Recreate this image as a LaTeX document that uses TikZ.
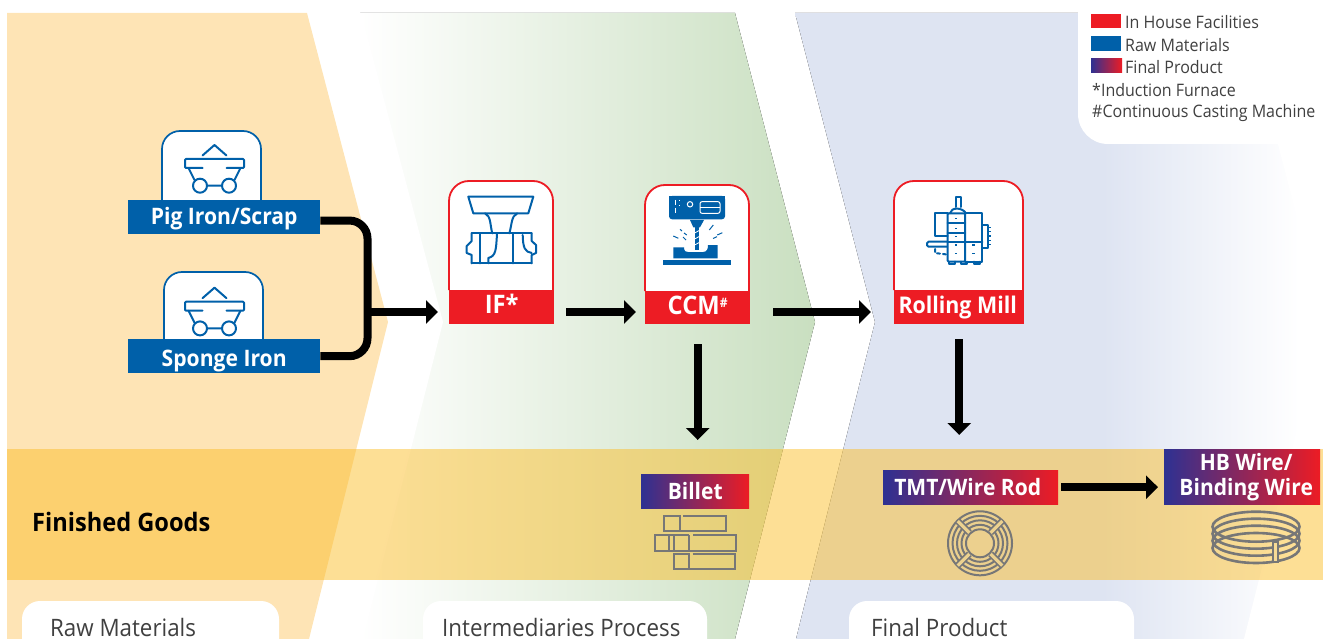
\documentclass[tikz,border=0pt]{standalone}
\usepackage{fontspec}
\setmainfont{Open Sans}[FakeStretch=0.93]
\usepackage{xcolor}
\usepackage{tikz}
\usetikzlibrary{arrows.meta}
\definecolor{orangezone}{HTML}{FEE4B5}
\definecolor{greenzone}{HTML}{C9DFC0}
\definecolor{bluezone}{HTML}{DEE4F2}
\definecolor{bandcol}{HTML}{FBBD27}
\definecolor{rawblue}{HTML}{0060A9}
\definecolor{housered}{HTML}{ED1C24}
\definecolor{prodblue}{HTML}{2E3192}
\definecolor{icongrey}{HTML}{777777}
\definecolor{textgrey}{HTML}{404040}
\definecolor{spokefill}{HTML}{ECD18F}
\definecolor{clasp}{HTML}{F8DB95}
\pgfdeclarehorizontalshading{bluefade}{100bp}{
  color(0bp)=(bluezone); color(54bp)=(bluezone); color(72.6bp)=(white); color(100bp)=(white)}
\tikzset{
  flow/.style={-{Triangle[length=12pt,width=23pt]},line width=8pt,draw=black},
  bluelabel/.style={fill=rawblue,text=white,font=\bfseries\fontsize{22.7}{24}\selectfont,anchor=north west,inner sep=0pt,minimum height=34pt},
  redlabel/.style={fill=housered,text=white,font=\bfseries\fontsize{23}{24}\selectfont,anchor=north west,inner sep=0pt,minimum height=34pt,text height=18pt,text depth=5pt},
  prodlabel/.style={left color=prodblue,right color=housered,text=white,font=\bfseries\fontsize{22.6}{25}\selectfont,anchor=north west,inner sep=0pt,align=center},
  legendtext/.style={text=textgrey,font=\fontsize{17.2}{20}\selectfont,anchor=west,inner sep=0pt},
  tabtext/.style={text=textgrey,font=\fontsize{24}{28}\selectfont,anchor=base west,inner sep=0pt},
  bluecard/.style={draw=rawblue,fill=white,line width=1.7pt,rounded corners=18pt},
  redcard/.style={draw=housered,fill=white,line width=1.8pt,rounded corners=20pt},
  blueicon/.style={draw=rawblue,line width=2pt,line cap=round,line join=round},
  greyicon/.style={draw=icongrey,line width=2pt},
  cart/.pic={
    \draw[blueicon] (-12,10.5) -- (0,0) -- (12,10.5);
    \draw[blueicon,rounded corners=1pt] (-12,23) -- (-29.5,23) -- (-29.5,14) -- (29.5,14) -- (29.5,23) -- (12,23);
    \draw[blueicon] (-26,23) -- (-20,35) (26,23) -- (20,35);
    \draw[blueicon] (-14.5,40.7) circle (7) (14.5,40.7) circle (7) (-7.5,40.7) -- (7.5,40.7);
  }
}
\begin{document}
\begin{tikzpicture}[x=1pt,y=-1pt]
  \clip (0,0) rectangle (1325,639);
  \useasboundingbox (0,0) rectangle (1325,639);

  % zones
  \fill[orangezone] (7,13) -- (307,13) -- (388,322) -- (309,639) -- (7,639) -- cycle;
  \fill[left color=white,right color=greenzone] (360,13) -- (735,13) -- (815,322) -- (735,639) -- (362,639) -- (442,322) -- cycle;
  \fill[shading=bluefade] (795,13) -- (1245,13) -- (1325,322) -- (1245,639) -- (796,639) -- (875,322) -- cycle;
  \draw[white,line width=2pt] (360,13) -- (442,322) -- (362,639);
  \draw[white,line width=2pt] (1245,13) -- (1325,322) -- (1245,639);
  \fill[white,rounded corners=30pt] (1078,-40) rectangle (1400,144);
  \fill[bandcol,opacity=0.49] (7,449) rectangle (1323,580);

  % bottom tabs
  \fill[white,rounded corners=18pt] (22,601) rectangle (279,680);
  \fill[white,rounded corners=18pt] (423,601) rectangle (707,680);
  \fill[white,rounded corners=18pt] (849,601) rectangle (1134,680);
  \node[tabtext] (rawtab) at (50,636.5) {Raw Materials};
  \node[tabtext] (midtab) at (442,636.5) {Intermediaries Process};
  \node[tabtext] (finaltab) at (871,636.5) {Final Product};

  % legend
  \fill[housered] (1091,14) rectangle (1121,28);
  \fill[rawblue] (1091,36) rectangle (1121,51);
  \fill[left color=prodblue,right color=housered] (1091,59) rectangle (1122,73);
  \node[legendtext] (leg1) at (1125,22) {In House Facilities};
  \node[legendtext] (leg2) at (1125,45) {Raw Materials};
  \node[legendtext] (leg3) at (1125,67) {Final Product};
  \node[legendtext] (leg4) at (1092,90) {*Induction Furnace};
  \node[legendtext] (leg5) at (1092,113.5) {\#Continuous Casting Machine};

  % raw material cards
  \draw[bluecard] (162,200) -- (162,131) -- (261,131) -- (261,200);
  \draw[bluecard] (164,339) -- (164,272) -- (263,272) -- (263,339);
  \pic at (214.5,145) {cart};
  \pic at (214.5,287.7) {cart};
  \node[bluelabel,minimum width=192pt,text height=18pt,text depth=4pt] (pig) at (128,200) {Pig Iron/Scrap};
  \node[bluelabel,minimum width=192pt,text height=24pt,text depth=4pt] (sponge) at (128,339) {Sponge Iron};

  % process cards
  \draw[redcard] (449,290) -- (449,181) -- (553,181) -- (553,290);
  \draw[redcard] (645,291) -- (645,185) -- (749,185) -- (749,291);
  \draw[redcard] (894,290) -- (894,181) -- (1023,181) -- (1023,290);
  \node[redlabel,minimum width=105pt,font=\bfseries\fontsize{25.5}{26}\selectfont] (if) at (449,290) {IF*};
  \node[redlabel,minimum width=105pt,minimum height=33pt,font=\bfseries\fontsize{25.5}{26}\selectfont] (ccm) at (645,291) {CCM\raisebox{7pt}{\fontsize{13}{14}\selectfont\#}};
  \node[redlabel,minimum width=130pt] (mill) at (894,290) {Rolling Mill\hspace*{3pt}};

  % IF icon
  \draw[blueicon] (468.3,196.7) -- (533.3,196.7) -- (528.3,213.3) -- (473.3,213.3) -- cycle;
  \draw[blueicon] (485,213.3) .. controls (491,216) and (490,225) .. (492.3,233.3);
  \draw[blueicon] (517.3,213.3) .. controls (511,216) and (512,225) .. (509.3,233.3);
  \draw[blueicon] (471.7,233.3) -- (531.7,233.3);
  \draw[blueicon] (471.7,263.3) -- (531.7,263.3);
  \draw[blueicon] (471.7,233.3) -- (471.7,241) -- (466.7,246) -- (466.7,253) -- (471.7,255) -- (471.7,263.3);
  \draw[blueicon] (531.7,233.3) -- (531.7,241) -- (536,245) -- (536,253) -- (531.7,255) -- (531.7,263.3);
  \draw[blueicon] (480,233.3) -- (480,263.3);
  \draw[blueicon] (513.3,233.3) -- (513.3,263.3);
  \draw[blueicon] (497,234) .. controls (496,250) and (496,256) .. (488.3,258) -- (488.3,263.3);
  \draw[blueicon] (522.7,235) .. controls (523,248) and (525,252) .. (531.7,253);

  % CCM icon
  \fill[rawblue,rounded corners=3pt] (669,196) -- (725,196) -- (725,219.3) -- (669,219.3) -- cycle;
  \fill[rawblue] (669,196) rectangle (725,205);
  \draw[white,line width=1pt] (675,200) -- (675,205.5) (675,208) -- (675,213) (679.3,200) -- (679.3,201.5) (679.3,205) -- (679.3,206.5);
  \draw[white,line width=1pt] (690,204.3) circle (2.7);
  \draw[white,line width=1pt,rounded corners=2pt] (700,201.7) rectangle (720,213.3);
  \draw[white,line width=1pt] (700,207.5) -- (720,207.5);
  \fill[rawblue] (690,220) -- (704,220) -- (700,227.3) -- (693.3,227.3) -- cycle;
  \fill[rawblue] (694.5,227.3) rectangle (699.3,250);
  \draw[white,line width=0.8pt] (694.5,233) -- (699.3,230.5) (694.5,239) -- (699.3,236.5) (694.5,245) -- (699.3,242.5);
  \fill[rawblue] (673.3,247.3) -- (684,247.3) -- (684,249) .. controls (684,251) and (686,252) .. (688,252) -- (703,252) .. controls (707,252) and (708,249) .. (708,245) -- (717.7,245) -- (717.7,258.3) -- (673.3,258.3) -- cycle;
  \fill[rawblue] (662.7,260) rectangle (731,264.7);
  \draw[rawblue,line width=1pt] (680,229.3) -- (682,231) (684,233) -- (686.7,235) (673.3,236) -- (678.3,238.3) (683,237) -- (686,240);
  \draw[rawblue,line width=1pt] (713.3,225) -- (709.3,230) (722.3,232.7) -- (717.3,235) (713,238.5) -- (717,236.7);

  % mill icon
  \draw[blueicon,rounded corners=1pt] (947.7,213.3) rectangle (965,261.7);
  \draw[blueicon] (947.7,223.3) -- (965,223.3) (947.7,233.3) -- (965,233.3) (947.7,241.7) -- (982.3,241.7);
  \draw[blueicon] (965,261.7) -- (982.3,261.7) -- (982.3,213.3) -- (965,213.3);
  \draw[blueicon] (947.7,213.3) -- (935,213.3) -- (935,235.7) -- (947.7,235.7);
  \draw[blueicon] (950,213.3) .. controls (951,207) and (962,207) .. (966,213.3);
  \draw[blueicon] (956,207) -- (956,196.7) -- (960.7,196.7) -- (960.7,207);
  \draw[blueicon] (982.3,225) -- (988.3,225) -- (988.3,248.3) -- (982.3,248.3);
  \draw[rawblue,line width=1pt] (988.3,228) -- (990.5,228) (988.3,232) -- (990.5,232) (988.3,236) -- (990.5,236) (988.3,240) -- (990.5,240) (988.3,244) -- (990.5,244);
  \draw[blueicon,rounded corners=1.5pt] (947,241.7) -- (927,241.7) -- (927,246.7) -- (947,246.7);
  \draw[blueicon,dash pattern=on 3pt off 3pt] (935,249) -- (935,253) -- (947,254.5);
  \draw[blueicon] (949,261.7) -- (949,263.5) -- (955,263.5) -- (955,261.7) (961,261.7) -- (961,263.5) -- (967,263.5) -- (967,261.7) (973.5,261.7) -- (973.5,263.5) -- (979.5,263.5) -- (979.5,261.7);
  \foreach \dotx/\doty in {956/218.3,956/228.3,956/236.7,956/245,956/253.3,973.5/245,973.5/253.3}
    \draw[rawblue,line width=1.5pt] (\dotx-1.2,\doty) -- (\dotx+1.2,\doty);

  % product labels
  \node[prodlabel,minimum width=108pt,minimum height=34pt] (billet) at (641,474) {Billet};
  \node[prodlabel,minimum width=175pt,minimum height=34pt] (tmt) at (883,470) {\raisebox{-2pt}{TMT/Wire Rod}\hspace*{6pt}};
  \node[prodlabel,minimum width=156pt,minimum height=55pt] (hb) at (1164,449) {\hspace*{8pt}HB Wire/\\\hspace*{8pt}Binding Wire};
  \node[anchor=base west,inner sep=0pt,font=\bfseries\fontsize{25.4}{27}\selectfont] (goods) at (32,531) {Finished Goods};

  % billet icon
  \draw[greyicon] (664.3,515.7) rectangle (680,530.7);
  \draw[greyicon] (683.3,515.7) -- (726,515.7) -- (726,530.7) -- (680,530.7);
  \draw[greyicon] (689.3,535) -- (655,535) -- (655,550.7) -- (736,550.7) -- (736,535) -- (693.3,535);
  \draw[greyicon] (669.3,535) -- (669.3,550.7) (674,535) -- (674,550.7) (689.3,535) -- (689.3,550.7);
  \draw[greyicon] (674,554) rectangle (689.3,569);
  \draw[greyicon] (692.7,554) -- (735,554) -- (735,569) -- (689.3,569);

  % coil icon
  \foreach \ringr in {32,27.5,23,18.5,14}
    \draw[greyicon] (980,543.3) circle (\ringr);
  \foreach \spoke in {45,135,225,315} {
    \draw[icongrey,line width=6.5pt] (980,543.3) ++(\spoke:15) -- ++(\spoke:16.5);
    \draw[spokefill,line width=3.2pt] (980,543.3) ++(\spoke:15) -- ++(\spoke:16.5);
  }

  % wire icon
  \foreach \wirey in {526.7,533.7,540.7,548}
    \draw[greyicon,line width=2.6pt] (1256,\wirey) ellipse (43.5 and 15);
  \draw[greyicon,fill=clasp] (1272.7,541.7) rectangle (1278.3,561.7);

  % arrows
  \coordinate (row) at (367.5,312);
  \draw[line width=8pt,rounded corners=18pt] (pig.-2) -- (row |- pig.-2) -- (row |- sponge.east) -- (sponge.east);
  \draw[flow,shorten >=11pt] (row) -- (row -| if.west);
  \draw[flow,shorten <=12pt,shorten >=9pt] (row -| if.east) -- (row -| ccm.west);
  \draw[flow,shorten <=23pt,shorten >=23pt] (row -| ccm.east) -- (row -| mill.west);
  \draw[flow,shorten <=20pt,shorten >=34pt] (ccm.south) -- (ccm.south |- billet.north);
  \draw[flow,shorten <=15pt,shorten >=35pt] (mill.south) -- (mill.south |- tmt.north);
  \draw[flow,shorten <=3pt,shorten >=6pt] (tmt.east) -- (tmt.east -| hb.west);
\end{tikzpicture}
\end{document}
